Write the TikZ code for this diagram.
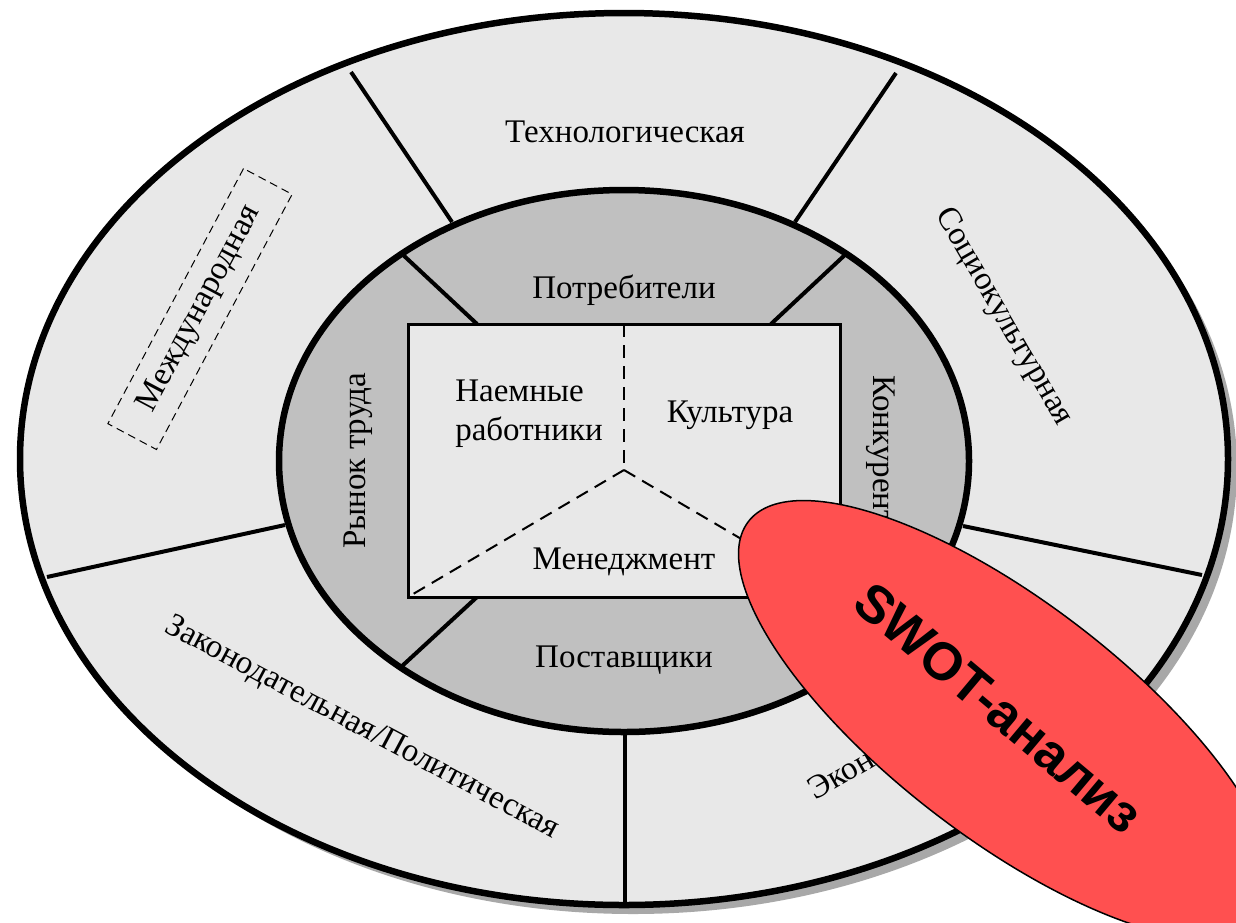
\documentclass[tikz,border=0pt]{standalone}
\usepackage{fontspec}
\setmainfont{Liberation Serif}
\newfontfamily\swotfont{Liberation Sans}
\definecolor{ringlight}{HTML}{E8E8E8}
\definecolor{ringdark}{HTML}{C0C0C0}
\definecolor{shadowgray}{HTML}{A8A8A8}
\definecolor{swotred}{HTML}{FF5050}
\begin{document}
\begin{tikzpicture}[x=1pt,y=-1pt,
  lbl/.style={font=\fontsize{33}{39}\selectfont, inner sep=0pt},
  divider/.style={line width=4pt},
  ringline/.style={line width=6.5pt},
  dashline/.style={line width=2pt, dash pattern=on 13pt off 8pt},
  swotlbl/.style={font=\swotfont\bfseries\fontsize{53}{60}\selectfont, inner sep=0pt}]
\useasboundingbox (0,0) rectangle (1236,922);
% shadow and outer ring
\fill[shadowgray] (633,468) ellipse [x radius=604, y radius=446];
\fill[ringlight] (624,459) ellipse [x radius=604, y radius=446];
% outer dividers
\coordinate (o1a) at (351,72);   \coordinate (o1b) at (452,222);
\coordinate (o2a) at (896,73);   \coordinate (o2b) at (795,222);
\coordinate (o3a) at (47,577);   \coordinate (o3b) at (285,525);
\coordinate (o4a) at (1202,575); \coordinate (o4b) at (963,526);
\coordinate (o5a) at (625,905);  \coordinate (o5b) at (625,730);
\draw[divider] (o1a) -- (o1b);
\draw[divider] (o2a) -- (o2b);
\draw[divider] (o3a) -- (o3b);
\draw[divider] (o4a) -- (o4b);
\draw[divider] (o5a) -- (o5b);
\draw[ringline] (624,459) ellipse [x radius=604, y radius=446];
% inner ring
\fill[ringdark] (624,461) ellipse [x radius=345, y radius=271];
\coordinate (i1a) at (401,253); \coordinate (i1b) at (477,324);
\coordinate (i2a) at (847,253); \coordinate (i2b) at (771,324);
\coordinate (i3a) at (401,667); \coordinate (i3b) at (477,597);
\coordinate (i4a) at (847,667); \coordinate (i4b) at (771,597);
\draw[divider] (i1a) -- (i1b);
\draw[divider] (i2a) -- (i2b);
\draw[divider] (i3a) -- (i3b);
\draw[divider] (i4a) -- (i4b);
\draw[ringline] (624,461) ellipse [x radius=345, y radius=271];
% central rectangle
\draw[fill=ringlight, line width=3pt] (408,324) rectangle (840,597);
\coordinate (rtop) at (624,324);
\coordinate (rbl) at (408,597);
\coordinate (rbr) at (840,597);
\coordinate (hub) at (624,470);
\draw[dashline] (rtop) -- (hub);
\draw[dashline] (hub) -- (rbl);
\draw[dashline] (hub) -- (rbr);
% labels outer ring
\node[lbl] (tech) at (625,132) {Технологическая};
\node[lbl, rotate=-60] (soc) at (1003,317) {Социокультурная};
\node[lbl, rotate=62, draw, dashed, line width=1pt, dash pattern=on 8pt off 5pt,
      minimum width=289pt, minimum height=55pt] (intl) at (200,309) {Международная};
\node[lbl, rotate=-28] (legal) at (362,728) {Законодательная/Политическая};
\node[lbl, rotate=30] (econ) at (904,737) {Экономическая};
% labels inner ring
\node[lbl] (cons) at (624,290) {Потребители};
\node[lbl] (supp) at (624,660) {Поставщики};
\node[lbl, rotate=90] (labor) at (358,461) {Рынок труда};
\node[lbl, rotate=-90] (comp) at (881,461) {Конкуренты};
% labels rectangle
\node[lbl, align=left] (empl) at (529,414) {Наемные\\работники};
\node[lbl] (cult) at (730,415) {Культура};
\node[lbl] (mgmt) at (624,562) {Менеджмент};
% SWOT ellipse
\filldraw[fill=swotred, draw=black, line width=1.5pt, rotate around={-37.5:(1007,720)}]
  (1007,720) ellipse [x radius=326, y radius=118];
\node[swotlbl, rotate=-40] (swot) at (999,708) {SWOT-анализ};
\end{tikzpicture}
\end{document}
